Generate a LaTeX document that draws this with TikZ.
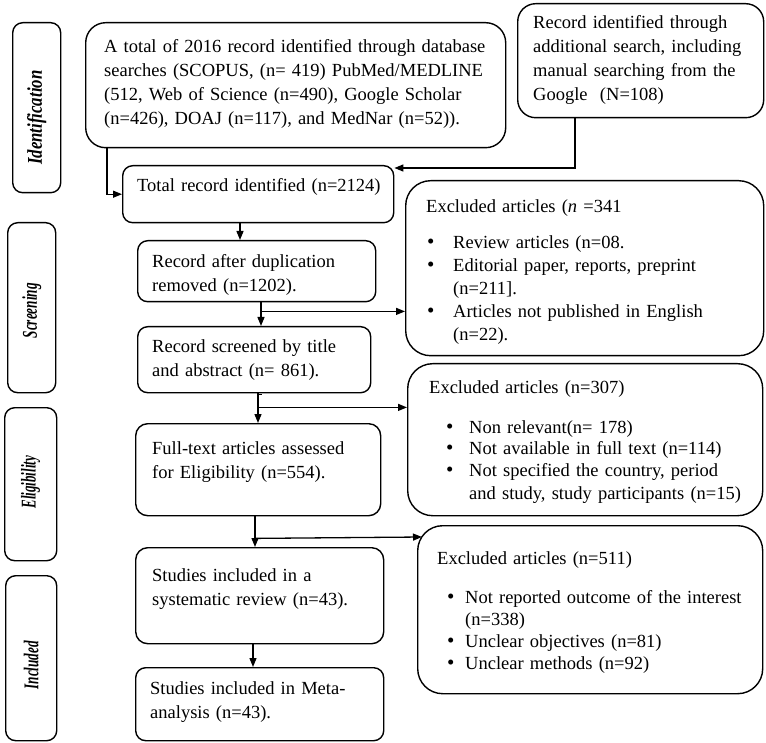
\documentclass[tikz,border=0pt]{standalone}
\usepackage{fontspec}
\usepackage{graphicx}
\setmainfont{Liberation Serif}
\usetikzlibrary{arrows.meta,calc}
\newcommand{\bul}[2]{\hspace*{#1}\makebox[#2][l]{\fontsize{21}{21}\selectfont\textbullet}}
\begin{document}
\begin{tikzpicture}[x=1pt,y=-1pt,
 box/.style={draw=black, line width=1.4pt, anchor=north west, inner sep=0pt},
 txt/.style={anchor=base west, inner sep=0pt, align=left, font=\fontsize{18.5}{24}\selectfont},
 lst/.style={txt, font=\fontsize{18.5}{22}\selectfont},
 side/.style={font=\fontsize{21}{22}\selectfont\bfseries\itshape, rotate=90, inner sep=0pt},
 arr/.style={line width=1.3pt, -{Triangle[length=9pt,width=7pt]}},
 ln/.style={line width=1.3pt}
]
\useasboundingbox (0,0) rectangle (766,743);

% side boxes
\node[box, rounded corners=10pt, minimum width=48pt, minimum height=170pt] (sid) at (12,22) {};
\node[box, rounded corners=10pt, minimum width=48pt, minimum height=170pt] (sscr) at (7,222) {};
\node[box, rounded corners=10pt, minimum width=52pt, minimum height=153pt] (selig) at (4,407) {};
\node[box, rounded corners=10pt, minimum width=51pt, minimum height=165pt] (sinc) at (5,575) {};
\node[side] (sidt) at ($(sid.center)+(0,10)$) {\scalebox{0.8}[1]{Identification}};
\node[side] (sscrt) at ($(sscr.center)+(0,3)$) {\scalebox{0.63}[1]{Screening}};
\node[side] (seligt) at ($(selig.center)+(0,-2)$) {\scalebox{0.62}[1]{Eligibility}};
\node[side] (sinct) at ($(sinc.center)+(0,7)$) {\scalebox{0.63}[1]{Included}};

% main boxes
\node[box, rounded corners=20pt, minimum width=420pt, minimum height=125pt] (A) at (85,22) {};
\node[box, rounded corners=18pt, minimum width=246pt, minimum height=114pt] (B) at (517,3) {};
\node[box, rounded corners=10pt, minimum width=271pt, minimum height=57pt] (tot) at (122,165) {};
\node[box, rounded corners=10pt, minimum width=238pt, minimum height=61pt] (dup) at (137,240) {};
\node[box, rounded corners=10pt, minimum width=233pt, minimum height=66pt] (scr) at (137,326) {};
\node[box, rounded corners=12pt, minimum width=245pt, minimum height=92pt] (full) at (135,423) {};
\node[box, rounded corners=12pt, minimum width=248pt, minimum height=96pt] (sys) at (135,547) {};
\node[box, rounded corners=10pt, minimum width=248pt, minimum height=73pt] (meta) at (135,667) {};
\node[box, rounded corners=25pt, minimum width=358pt, minimum height=175pt] (ex1) at (405,180) {};
\node[box, rounded corners=25pt, minimum width=355pt, minimum height=152pt] (ex2) at (407,363) {};
\node[box, rounded corners=25pt, minimum width=345pt, minimum height=168pt] (ex3) at (417,525) {};

% texts
\node[txt, text width=389pt] (At) at (104,53) {\makebox[389pt][s]{A total of 2016 record identified through database}\\
\makebox[389pt][s]{searches (SCOPUS, (n= 419) PubMed/MEDLINE}\\
\makebox[389pt][s]{(512, Web of Science (n=490), Google Scholar}\\
(n=426), DOAJ (n=117), and MedNar (n=52)).};
\node[txt, text width=212pt] (Bt) at (533,29) {\makebox[212pt][s]{Record identified through}\\
\makebox[212pt][s]{additional search, including}\\
\makebox[212pt][s]{manual searching from the}\\
Google\ \ (N=108)};
\node[txt, text width=250pt] (tott) at (137,192) {Total record identified (n=2124)};
\node[txt, text width=220pt] (dupt) at (152,268) {Record after duplication\\ removed (n=1202).};
\node[txt, text width=215pt] (scrt) at (152,353) {Record screened by title\\ and abstract (n= 861).};
\node[txt, text width=225pt] (fullt) at (152,454) {Full-text articles assessed\\ for Eligibility (n=554).};
\node[txt, text width=225pt] (syst) at (152,581) {Studies included in a\\ systematic review (n=43).};
\node[txt, text width=225pt] (metat) at (150,694) {Studies included in Meta-\\ analysis (n=43).};

\node[lst, font=\fontsize{18.5}{23}\selectfont, text width=330pt] (ex1t) at (426,213) {Excluded articles (\textit{n} =341\\[13pt]
\bul{1pt}{26pt}Review articles (n=08.\\
\bul{1pt}{26pt}Editorial paper, reports, preprint\\
\hspace*{27pt}(n=211].\\
\bul{1pt}{26pt}Articles not published in English\\
\hspace*{27pt}(n=22).};
\node[lst, text width=330pt] (ex2t) at (429,393) {Excluded articles (n=307)\\[18pt]
\bul{17pt}{23pt}Non relevant(n= 178)\\
\bul{17pt}{23pt}Not available in full text (n=114)\\
\bul{17pt}{23pt}Not specified the country, period\\
\hspace*{40pt}and study, study participants (n=15)};
\node[lst, text width=320pt] (ex3t) at (437,564) {Excluded articles (n=511)\\[17pt]
\bul{10pt}{18pt}Not reported outcome of the interest\\
\hspace*{28pt}(n=338)\\
\bul{10pt}{18pt}Unclear objectives (n=81)\\
\bul{10pt}{18pt}Unclear methods (n=92)};

% connectors
\draw[arr] ($(A.south west)+(22,0)$) |- (tot.west);
\draw[arr] ($(B.south west)+(58,0)$) |- ($(tot.north east)+(0,3)$);
\draw[arr] ($(tot.south west)+(118,0)$) -- ($(dup.north west)+(103,0)$);
\draw[arr] ($(dup.south west)+(124,0)$) -- ($(scr.north west)+(124,0)$);
\coordinate (d1) at ($(dup.south west)+(124,9)$);
\draw[arr] (d1) -- (d1 -| ex1.west);
\draw[arr] ($(scr.south west)+(121,0)$) -- ($(full.north west)+(123,0)$);
\coordinate (t2) at ($(scr.south west)+(121,1)$);
\draw[ln] (t2) -- ++(4,0);
\coordinate (d2) at ($(scr.south west)+(121,14)$);
\draw[arr] (d2) -- (d2 -| ex2.west);
\draw[arr] ($(full.south west)+(120,0)$) -- ($(sys.north west)+(120,0)$);
\coordinate (d3) at ($(full.south west)+(120,22)$);
\coordinate (e3) at ($(ex3.north west)+(5,12)$);
\draw[arr] (d3) -- (e3);
\draw[arr] ($(sys.south west)+(118,0)$) -- ($(meta.north west)+(118,0)$);
\end{tikzpicture}
\end{document}
